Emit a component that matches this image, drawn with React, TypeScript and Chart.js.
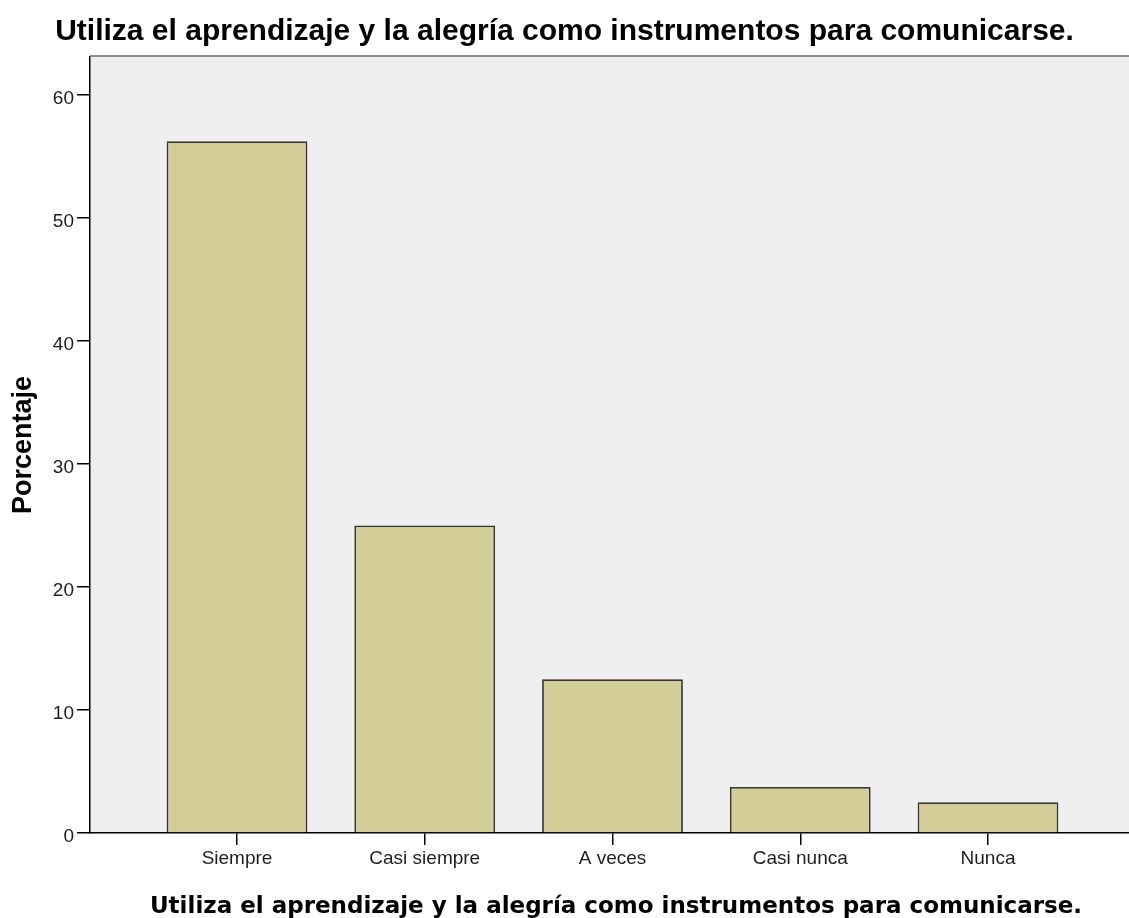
import React, { useEffect, useRef } from "react";
import { Chart, registerables } from "chart.js";

Chart.register(...registerables);

const CHART_TITLE = "Utiliza el aprendizaje y la alegría como instrumentos para comunicarse.";
const X_TITLE = "Utiliza el aprendizaje y la alegría como instrumentos para comunicarse.";
const Y_TITLE = "Porcentaje";
const CATEGORIES = ["Siempre", "Casi siempre", "A veces", "Casi nunca", "Nunca"];
const PERCENTAGES = [56.25, 25, 12.5, 3.75, 2.5];
const Y_TICKS = [0, 10, 20, 30, 40, 50, 60];
const Y_MAX = 63.1;

const W = 1129;
const H = 918;

export default function App() {
  const ref = useRef<HTMLCanvasElement | null>(null);

  useEffect(() => {
    const canvas = ref.current;
    if (!canvas) return;

    const framePlugin = {
      id: "spssFrame",
      beforeDraw(chart: any) {
        const { ctx, chartArea } = chart;
        ctx.save();
        ctx.fillStyle = "#EFEFEF";
        ctx.fillRect(chartArea.left, chartArea.top, chartArea.right - chartArea.left, chartArea.bottom - chartArea.top);
        ctx.restore();
      },
      afterDraw(chart: any) {
        const { ctx, chartArea } = chart;
        ctx.save();
        ctx.strokeStyle = "#8A8A8A";
        ctx.lineWidth = 2;
        ctx.beginPath();
        ctx.moveTo(chartArea.left, chartArea.top - 1);
        ctx.lineTo(chartArea.right, chartArea.top - 1);
        ctx.stroke();
        ctx.fillStyle = "#000";
        ctx.font = "bold 23px 'DejaVu Sans'";
        ctx.textAlign = "center";
        ctx.textBaseline = "alphabetic";
        ctx.fillText(X_TITLE, 616, 913);
        ctx.restore();
      },
    };

    const chart = new Chart(canvas, {
      type: "bar",
      data: {
        datasets: [
          {
            data: PERCENTAGES.map((v, i) => ({ x: i + 1, y: v })),
            backgroundColor: "#D3CE97",
            borderColor: "#363636",
            borderWidth: 1.8,
            barPercentage: 0.75,
            categoryPercentage: 1,
          },
        ],
      },
      options: {
        animation: false,
        responsive: false,
        layout: { padding: 0 },
        plugins: {
          legend: { display: false },
          tooltip: { enabled: false },
          title: {
            display: true,
            text: CHART_TITLE,
            color: "#000",
            font: { family: "'Liberation Sans', Arial, sans-serif", size: 30, weight: "bold" },
            padding: { top: 14, bottom: 7 },
          },
        },
        scales: {
          x: {
            type: "linear",
            min: 0.217,
            max: 5.751,
            offset: false,
            afterBuildTicks(scale: any) {
              scale.ticks = CATEGORIES.map((_, i) => ({ value: i + 1 }));
            },
            afterFit(scale: any) {
              scale.height = 85;
            },
            ticks: {
              autoSkip: false,
              maxRotation: 0,
              padding: 2,
              color: "#1E1E1E",
              font: { family: "'Liberation Sans', Arial, sans-serif", size: 19 },
              callback: (v: any) => CATEGORIES[Math.round(Number(v)) - 1] ?? "",
            },
            grid: {
              offset: false,
              drawOnChartArea: false,
              drawTicks: true,
              tickLength: 12,
              color: "#000",
              tickColor: "#000",
              lineWidth: 1.5,
              tickWidth: 1.5,
            },
            border: { display: true, color: "#000", width: 1.5 },
          },
          y: {
            type: "linear",
            min: 0,
            max: Y_MAX,
            afterBuildTicks(scale: any) {
              scale.ticks = Y_TICKS.map((v) => ({ value: v }));
            },
            afterFit(scale: any) {
              scale.width = 90;
            },
            ticks: {
              padding: 3,
              labelOffset: 4,
              color: "#1E1E1E",
              font: { family: "'Liberation Sans', Arial, sans-serif", size: 19 },
            },
            grid: {
              drawOnChartArea: false,
              drawTicks: true,
              tickLength: 13,
              color: "#000",
              tickColor: "#000",
              lineWidth: 1.5,
              tickWidth: 1.5,
            },
            border: { display: true, color: "#000", width: 1.5 },
            title: {
              display: true,
              text: Y_TITLE,
              color: "#000",
              font: { family: "'Liberation Sans', Arial, sans-serif", size: 27, weight: "bold" },
              padding: { top: 7, bottom: 0 },
            },
          },
        },
      },
      plugins: [framePlugin],
    } as any);

    return () => chart.destroy();
  }, []);

  return (
    <div style={{ position: "absolute", left: 0, top: 0, width: W, height: H, background: "#fff" }}>
      <canvas ref={ref} width={W} height={H} style={{ display: "block", width: W, height: H }} />
    </div>
  );
}
